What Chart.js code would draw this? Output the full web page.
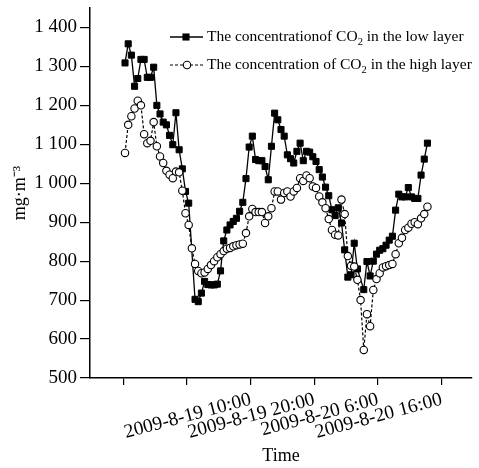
<!DOCTYPE html>
<html>
<head>
<meta charset="utf-8">
<script src="https://cdn.jsdelivr.net/npm/chart.js"></script>
<style>
  html, body { margin: 0; padding: 0; background: #fff; }
  #wrap { width: 479px; height: 468px; position: relative; }
</style>
</head>
<body>
<div id="wrap"><canvas id="chart"></canvas></div>
<script>
// half-hourly samples, hour 0 = first sample (null = no marker recorded)
const stepHours = 0.5;
const lowLayer = [
  1309, 1358, 1329, 1249, 1269, 1318, 1318, 1272, 1272, 1298,
  1200, 1178, 1157, 1150, 1123, 1099, 1181, 1086, 1037, 979,
  949, null, 702, 696, 718, 748, 740, 739, 739, 741,
  775, 852, 880, 893, 902, 910, 928, 951, 1012, 1093,
  1121, 1061, 1058, 1058, 1043, 1009, 1095, 1180, 1163, 1138,
  1121, 1073, 1063, 1052, 1082, 1103, 1058, 1082, 1080, 1068,
  1056, 1035, 1016, 990, 968, 932, 917, 937, 898, 829,
  759, 765, 846, 780, null, 727, 799, 762, 800, 818,
  828, 832, 841, 854, 864, 931, 972, 965, 965, 989,
  965, 961, 961, 1021, 1062, 1103
];
const highLayer = [
  1078, 1150, 1172, 1192, 1212, 1200, 1126, 1103, 1109, 1157,
  1095, 1069, 1052, 1032, 1022, 1013, 1030, 1028, 981, 923,
  893, 833, 793, 775, 769, 771, 780, 790, 800, 810,
  818, 826, 832, 834, 838, 841, 843, 845, 872, 915,
  934, 926, 926, 926, 898, 915, 936, 979, 979, 958,
  975, 979, 966, 979, 988, 1013, 1006, 1020, 1013, 992,
  988, 966, 951, 936, 908, 880, 868, 866, 958, 921,
  813, 788, 786, 752, 700, 572, 664, 633, 726, 754,
  769, 784, 787, 790, 793, 818, 846, 860, 880, 886,
  896, 900, 895, 910, 921, 940
];
const tickHours = [-0.25, 9.75, 19.75, 29.75, 39.75, 49.75];
const tickLabels = ['', '', '2009-8-19 10:00', '2009-8-19 20:00', '2009-8-20 6:00', '2009-8-20 16:00'];
const lowName = ['The concentrationof CO', '2', ' in the low layer'];
const highName = ['The concentration of CO', '2', ' in the high layer'];

const FONT = '"Liberation Serif", "Times New Roman", serif';
const toPoints = arr => arr.map((v, i) => ({ x: i * stepHours, y: v }));

// legend drawn inside the plot, line sample + marker like the original
const insideLegend = {
  id: 'insideLegend',
  afterDraw(chart) {
    const ctx = chart.ctx;
    const rows = [
      { ds: chart.data.datasets[1], parts: lowName, y: 37 },
      { ds: chart.data.datasets[0], parts: highName, y: 65 }
    ];
    ctx.save();
    rows.forEach(r => {
      const ds = r.ds;
      ctx.strokeStyle = '#000';
      ctx.lineWidth = ds.borderWidth;
      ctx.setLineDash(ds.borderDash || []);
      ctx.beginPath();
      ctx.moveTo(170, r.y);
      ctx.lineTo(203, r.y);
      ctx.stroke();
      ctx.setLineDash([]);
      ctx.lineWidth = ds.pointBorderWidth;
      ctx.fillStyle = ds.pointBackgroundColor;
      if (ds.pointStyle === 'rect') {
        const s = ds.pointRadius * Math.SQRT1_2;
        ctx.fillRect(186 - s, r.y - s, 2 * s, 2 * s);
        ctx.strokeRect(186 - s, r.y - s, 2 * s, 2 * s);
      } else {
        ctx.beginPath();
        ctx.arc(187, r.y, ds.pointRadius, 0, Math.PI * 2);
        ctx.fill();
        ctx.stroke();
      }
      ctx.fillStyle = '#000';
      ctx.textBaseline = 'middle';
      ctx.textAlign = 'left';
      let x = 207;
      ctx.font = '15.5px ' + FONT;
      ctx.fillText(r.parts[0], x, r.y);
      x += ctx.measureText(r.parts[0]).width;
      ctx.font = '10.5px ' + FONT;
      ctx.fillText(r.parts[1], x, r.y + 5);
      x += ctx.measureText(r.parts[1]).width;
      ctx.font = '15.5px ' + FONT;
      ctx.fillText(r.parts[2], x, r.y);
    });
    ctx.restore();
  }
};

new Chart(document.getElementById('chart'), {
  type: 'line',
  data: {
    datasets: [
      {
        label: highName.join(''),
        data: toPoints(highLayer),
        borderColor: '#000',
        borderWidth: 1.2,
        borderDash: [3, 2],
        pointStyle: 'circle',
        pointRadius: 3.7,
        pointBorderWidth: 1.1,
        pointBackgroundColor: '#fff',
        pointBorderColor: '#000',
        spanGaps: true
      },
      {
        label: lowName.join(''),
        data: toPoints(lowLayer),
        borderColor: '#000',
        borderWidth: 1.3,
        pointStyle: 'rect',
        pointRadius: 4.3,
        pointBorderWidth: 1,
        pointBackgroundColor: '#000',
        pointBorderColor: '#000',
        spanGaps: true
      }
    ]
  },
  options: {
    responsive: true,
    maintainAspectRatio: false,
    animation: false,
    layout: { padding: { top: 8, right: 7, left: 0, bottom: 0 } },
    plugins: { legend: { display: false }, tooltip: { enabled: false } },
    scales: {
      x: {
        type: 'linear',
        min: -5.5,
        max: 54.5,
        afterBuildTicks: s => { s.ticks = tickHours.map(v => ({ value: v })); },
        afterFit: s => { s.height = 90; s.paddingLeft = 0; s.paddingRight = 0; },
        ticks: {
          autoSkip: false,
          minRotation: 15,
          maxRotation: 15,
          padding: 3,
          color: '#000',
          font: { family: FONT, size: 19.5 },
          callback: (v, i) => tickLabels[i]
        },
        grid: { drawOnChartArea: false, drawTicks: true, tickLength: 7, color: '#000', lineWidth: 1.2 },
        border: { display: true, color: '#000', width: 1.5 },
        title: { display: true, text: 'Time', color: '#000', font: { family: FONT, size: 18 }, padding: { top: 0, bottom: 1 } }
      },
      y: {
        min: 500,
        max: 1450,
        afterFit: s => { s.width = 90; s.paddingTop = 0; s.paddingBottom = 0; },
        ticks: {
          stepSize: 100,
          includeBounds: false,
          padding: 3,
          color: '#000',
          font: { family: FONT, size: 19 },
          callback: v => v >= 1000 ? Math.floor(v / 1000) + ' ' + String(v % 1000).padStart(3, '0') : String(v)
        },
        grid: { drawOnChartArea: false, drawTicks: true, tickLength: 10, color: '#000', lineWidth: 1.2 },
        border: { display: true, color: '#000', width: 1.5 },
        title: { display: true, text: 'mg·m⁻³', color: '#000', font: { family: FONT, size: 18 }, padding: { top: 9, bottom: 0 } }
      }
    }
  },
  plugins: [insideLegend]
});
</script>
</body>
</html>
